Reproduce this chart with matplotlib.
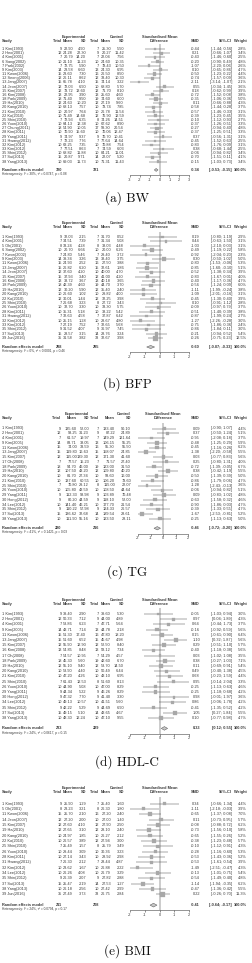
import matplotlib
matplotlib.use("Agg")
import matplotlib.pyplot as plt
from matplotlib.patches import Polygon

plt.rcParams['font.family'] = ['Liberation Sans', 'DejaVu Sans']

# ---------------- DATA ----------------
# (a) BW
bw_study = ["1 Kim(1993)", "2 Heo(2001)", "4 Kim(2001)", "6 Sang(2002)", "7 Park(2002)", "9 Kim(2003)",
            "11 Kwon(2006)", "12 Seong(2006)", "13 Jang(2007)", "14 Jeon(2007)", "15 Kim(2007)", "16 Kim(2008)",
            "18 Park(2009)", "19 Ha(2010)", "20 Kang(2010)", "21 Kim(2010)", "22 Ko(2010)", "25 Shin(2010)",
            "26 Yoon(2010)", "27 Chung(2011)", "28 Kim(2011)", "29 Yang(2011)", "31 Hwang(2012)", "32 Kim(2012)",
            "33 Kim(2012)", "35 Shin(2012)", "37 Sui(2013)", "38 Yang(2013)"]
bw_e_n = [9, 12, 7, 10, 7, 14, 15, 12, 15, 12, 12, 13, 18, 12, 10, 10, 10, 7, 10, 18, 10, 9, 7, 10, 7, 10, 15, 10]
bw_e_mean = [22.90, 24.28, 20.79, 21.10, 72.75, 23.58, 23.60, 26.11, 65.78, 72.03, 73.72, 22.95, 71.40, 24.63,
             68.13, 20.97, 71.49, 72.93, 64.13, 54.90, 70.90, 74.97, 72.23, 63.25, 77.51, 68.82, 20.87, 69.03]
bw_e_sd = [4.90, 22.30, 14.20, 11.23, 5.90, 6.60, 7.30, 8.62, 4.10, 6.90, 13.60, 3.90, 9.50, 10.20,
           7.57, 7.64, 14.68, 6.35, 12.38, 10.05, 15.60, 9.37, 7.76, 7.35, 8.63, 11.88, 9.71, 11.73]
bw_c_n = [7, 9, 7, 10, 7, 13, 16, 12, 15, 10, 12, 13, 19, 12, 10, 10, 12, 8, 10, 17, 10, 9, 7, 10, 7, 10, 14, 10]
bw_c_mean = [25.30, 20.27, 22.04, 24.60, 78.43, 24.30, 26.50, 33.40, 74.14, 68.80, 71.70, 25.60, 74.60, 27.19,
             73.74, 26.78, 76.90, 74.26, 67.62, 59.30, 70.06, 70.70, 77.64, 70.88, 74.59, 84.21, 22.07, 71.31]
bw_c_sd = [5.50, 11.42, 7.56, 10.35, 10.50, 6.95, 8.50, 10.30, 3.22, 5.70, 8.10, 4.60, 6.00, 9.60,
           7.85, 11.54, 12.59, 14.51, 8.90, 20.54, 12.47, 10.41, 14.64, 7.54, 6.03, 11.01, 5.20, 11.43]
bw_smd = [-0.44, 0.21, -0.43, -0.20, -1.07, 0.10, -0.50, -0.74, -2.11, 0.55, 0.18, -0.72, -0.35, 0.11,
          -0.58, -0.57, -0.39, -0.10, -0.37, -0.27, -0.37, 0.37, -0.45, -0.83, 0.38, -0.06, -0.70, -0.15]
bw_lo = [-1.44, -0.66, -1.46, -0.90, -2.20, -0.65, -1.23, -1.57, -3.14, -0.34, -0.62, -1.52, -1.06, -0.66,
         -1.44, -1.46, -1.23, -1.12, -1.26, -0.94, -1.25, -0.56, -1.52, -1.76, -0.68, -0.94, -1.51, -1.03]
bw_hi = [0.56, 1.07, 0.60, 0.49, 0.06, 0.86, 0.22, 0.09, -1.07, 1.45, 0.99, 0.08, 0.36, 0.88,
         0.28, 0.33, 0.45, 0.93, 0.51, 0.40, 0.51, 1.31, 0.63, 0.09, 1.44, 0.82, 0.11, 0.73]
bw_w = [2.8, 3.4, 2.5, 4.8, 2.6, 4.7, 4.4, 3.6, 2.1, 3.6, 3.9, 3.8, 5.0, 4.3,
        3.7, 3.1, 3.5, 2.7, 3.3, 4.8, 3.3, 3.1, 2.5, 3.1, 2.5, 3.4, 4.1, 3.4]
bw_total = [320, 321]
bw_pooled = [-0.34, -0.53, -0.15]
bw_het = "Heterogeneity: I² = 30%, τ² = 0.0747, p = 0.08"
bw_ticks = [-3, -2, -1, 0, 1, 2, 3]

# (b) BFP
bfp_study = ["1 Kim(1993)", "4 Kim(2001)", "5 Oh(2001)", "6 Sang(2002)", "7 Kwon(2002)", "9 Kim(2003)",
             "11 Kwon(2006)", "13 Jang(2007)", "14 Jeon(2007)", "15 Kim(2007)", "16 Kim(2008)", "18 Park(2009)",
             "19 Ha(2010)", "20 Kang(2010)", "22 Ko(2010)", "25 Shin(2010)", "26 Yoon(2010)", "28 Kim(2011)",
             "31 Hwang(2012)", "32 Kim(2012)", "33 Kim(2012)", "35 Shin(2012)", "37 Sui(2013)", "39 Jun(2016)"]
bfp_e_n = [9, 7, 8, 10, 7, 14, 15, 15, 12, 15, 13, 18, 12, 10, 12, 7, 10, 10, 7, 10, 7, 9, 15, 35]
bfp_e_mean = [32.03, 34.51, 33.24, 20.70, 24.80, 39.34, 24.93, 26.82, 37.60, 37.93, 38.72, 42.39,
              30.20, 26.60, 30.01, 26.68, 32.70, 35.31, 32.63, 25.15, 27.19, 31.52, 28.57, 31.58]
bfp_e_sd = [2.15, 7.39, 4.28, 6.66, 5.46, 3.26, 2.52, 6.20, 4.20, 3.40, 3.67, 4.60,
            5.90, 1.02, 1.44, 3.23, 3.30, 5.18, 4.58, 1.28, 7.52, 4.07, 3.15, 3.82]
bfp_c_n = [7, 7, 8, 10, 7, 13, 16, 15, 10, 12, 13, 19, 12, 10, 12, 8, 10, 10, 7, 10, 7, 9, 14, 33]
bfp_c_mean = [31.70, 31.34, 38.03, 20.00, 29.40, 38.40, 27.50, 32.61, 40.00, 41.00, 40.18, 44.70,
              35.40, 29.82, 32.25, 27.72, 33.30, 38.22, 37.87, 28.67, 32.65, 36.97, 28.76, 32.67]
bfp_c_sd = [0.52, 5.08, 4.48, 6.26, 3.72, 3.75, 3.88, 1.86, 4.70, 4.20, 3.65, 3.70,
            2.40, 4.00, 3.98, 3.43, 5.75, 5.42, 6.42, 4.80, 5.68, 7.45, 3.24, 3.98]
bfp_smd = [0.19, 0.44, -1.03, -0.49, -0.92, 0.30, -0.80, -0.85, -0.52, -0.83, -0.40, -0.56,
           -1.11, -1.09, -0.45, 0.10, -0.09, -0.51, -0.87, -1.27, -0.75, -0.86, -0.21, -0.26]
bfp_lo = [-0.80, -0.63, -2.10, -1.19, -2.04, -0.50, -1.53, -1.60, -1.38, -1.67, -1.17, -1.24,
          -1.99, -2.01, -1.30, -0.91, -0.97, -1.40, -1.99, -2.26, -1.86, -1.84, -0.94, -0.75]
bfp_hi = [1.19, 1.50, 0.03, 0.22, 0.20, 1.02, -0.06, -0.10, 0.34, 0.01, 0.36, 0.09,
          -0.24, -0.16, 0.40, 1.12, 0.79, 0.39, 0.24, -0.28, 0.36, 0.11, 0.52, 0.23]
bfp_w = [2.9, 3.1, 3.1, 5.8, 2.3, 5.0, 5.3, 5.1, 3.9, 4.0, 4.7, 6.0,
         3.8, 3.1, 3.9, 2.8, 3.7, 3.8, 2.7, 3.0, 2.4, 3.0, 5.4, 12.5]
bfp_total = [288, 285]
bfp_pooled = [-0.60, -0.87, -0.33]
bfp_het = "Heterogeneity: I² = 0%, τ² < 0.0001, p = 0.46"
bfp_ticks = [-2, -1, 0, 1, 2]

# (c) TG
tg_study = ["1 Kim(1993)", "2 Heo(2001)", "4 Kim(2001)", "9 Kim(2005)", "11 Kwon(2006)", "13 Jang(2007)",
            "15 Kim(2007)", "17 Oh(2008)", "18 Park(2009)", "19 Ha(2010)", "20 Kang(2010)", "21 Kim(2010)",
            "25 Shin(2010)", "26 Yoon(2010)", "29 Yang(2011)", "30 Hong(2012)", "34 Lee(2012)", "35 Shin(2012)",
            "37 Sui(2013)", "38 Yang(2013)"]
tg_e_n = [9, 12, 7, 14, 15, 15, 12, 7, 18, 12, 10, 10, 7, 10, 9, 9, 10, 9, 15, 10]
tg_e_mean = [135.60, 98.25, 61.57, 83.71, 74.00, 119.80, 115.00, 77.57, 94.70, 107.50, 81.70, 137.60,
             70.80, 105.80, 112.33, 80.20, 141.40, 110.22, 136.62, 111.90]
tg_e_sd = [52.00, 31.23, 19.97, 38.05, 33.59, 16.63, 139.30, 15.23, 46.00, 43.20, 27.34, 60.55,
           29.12, 43.59, 98.98, 44.59, 46.21, 57.98, 32.68, 55.16]
tg_c_n = [7, 9, 7, 13, 16, 15, 12, 7, 19, 12, 10, 10, 8, 10, 9, 9, 10, 9, 14, 10]
tg_c_mean = [133.40, 87.22, 149.29, 106.15, 95.30, 158.07, 171.30, 71.57, 123.00, 109.80, 93.60, 106.20,
             115.00, 108.50, 103.89, 118.10, 177.70, 124.33, 189.54, 123.50]
tg_c_sd = [90.10, 24.89, 121.64, 55.25, 55.50, 24.85, 41.60, 27.40, 31.50, 40.20, 16.00, 73.60,
           22.07, 44.64, 70.48, 52.00, 21.54, 26.57, 28.61, 28.11]
tg_smd = [0.09, 0.37, -0.95, -0.48, -0.45, -1.38, 0.03, 0.25, -0.72, 0.38, -0.50, -0.86,
          -1.28, -0.06, 0.09, -0.63, -0.90, -0.39, -1.67, -0.25]
tg_lo = [-0.90, -0.50, -2.08, -1.25, -1.16, -2.20, -0.77, -0.80, -1.39, -0.42, -1.39, -1.79,
         -2.43, -0.94, -0.83, -1.58, -1.86, -1.33, -2.53, -1.13]
tg_hi = [1.07, 1.24, 0.18, 0.29, 0.26, -0.58, 0.83, 1.31, -0.05, 1.19, 0.39, 0.06,
         -0.13, 0.82, 1.02, 0.32, 0.03, 0.55, -0.81, 0.63]
tg_w = [4.4, 5.1, 3.7, 5.9, 6.2, 5.5, 5.6, 4.0, 6.7, 5.5, 5.0, 4.7,
        3.6, 5.1, 4.8, 4.6, 4.7, 4.7, 5.2, 5.0]
tg_total = [220, 216]
tg_pooled = [-0.46, -0.72, -0.20]
tg_het = "Heterogeneity: I² = 41%, τ² = 0.1421, p = 0.03"
tg_ticks = [-2, -1, 0, 1, 2]

# (d) HDL-C
hdl_study = ["1 Kim(1993)", "2 Heo(2001)", "4 Kim(2001)", "9 Kim(2005)", "11 Kwon(2006)", "13 Jang(2007)",
             "15 Kim(2007)", "16 Kim(2008)", "17 Oh(2008)", "18 Park(2009)", "19 Ha(2010)", "20 Kang(2010)",
             "21 Kim(2010)", "25 Shin(2010)", "26 Yoon(2010)", "29 Yang(2011)", "30 Hong(2012)", "34 Lee(2012)",
             "35 Shin(2012)", "37 Sui(2013)", "38 Yang(2013)"]
hdl_e_n = [9, 12, 7, 14, 15, 15, 12, 13, 7, 18, 12, 10, 10, 7, 10, 9, 9, 10, 9, 15, 10]
hdl_e_mean = [39.40, 50.33, 53.86, 43.71, 51.30, 51.60, 55.90, 54.85, 54.57, 45.30, 55.10, 53.90,
              47.20, 61.43, 44.90, 44.34, 47.32, 49.13, 42.22, 49.15, 48.30]
hdl_e_sd = [2.90, 7.12, 6.23, 7.14, 17.40, 6.52, 12.90, 8.48, 10.95, 5.60, 9.40, 4.40,
            4.26, 12.53, 5.08, 5.22, 7.70, 10.57, 5.29, 5.10, 12.24]
hdl_c_n = [7, 9, 7, 13, 16, 15, 12, 13, 7, 19, 12, 10, 10, 8, 10, 9, 9, 10, 9, 14, 10]
hdl_c_mean = [39.60, 44.00, 47.71, 44.78, 47.80, 45.67, 52.50, 58.12, 54.29, 42.60, 53.70, 50.49,
              43.10, 51.60, 47.00, 46.26, 41.40, 41.51, 44.69, 43.65, 47.10]
hdl_c_sd = [5.30, 4.89, 5.64, 2.18, 18.20, 4.98, 8.40, 7.34, 4.57, 6.70, 14.50, 6.44,
            6.95, 8.13, 8.29, 8.29, 3.30, 5.60, 6.90, 4.67, 9.55]
hdl_smd = [-0.05, 0.97, 0.64, -0.16, 0.15, 1.10, 0.29, -0.40, 0.03, 0.38, 0.11, 0.49,
           0.68, 0.95, -0.25, -0.25, 0.98, 0.86, -0.41, 1.05, 0.10]
hdl_lo = [-1.03, 0.04, -0.44, -0.92, -0.61, 0.32, -0.51, -1.18, -1.02, -0.27, -0.69, -0.40,
          -0.23, -0.14, -1.13, -1.18, -0.01, -0.06, -1.35, 0.27, -0.77]
hdl_hi = [0.94, 1.89, 1.73, 0.59, 0.90, 1.87, 1.10, 0.38, 1.08, 1.03, 0.91, 1.38,
          1.59, 2.04, 0.63, 0.68, 1.97, 1.78, 0.52, 1.84, 0.98]
hdl_w = [3.0, 4.3, 3.7, 5.6, 6.4, 5.6, 5.7, 5.6, 3.5, 7.1, 5.4, 4.5,
         4.4, 3.3, 4.6, 4.2, 3.6, 4.2, 4.2, 5.5, 4.7]
hdl_total = [233, 229]
hdl_pooled = [0.33, 0.12, 0.55]
hdl_het = "Heterogeneity: I² = 24%, τ² = 0.0617, p = 0.15"
hdl_ticks = [-2, -1, 0, 1, 2]

# (e) BMI
bmi_study = ["1 Kim(1993)", "5 Oh(2001)", "11 Kwon(2006)", "14 Jeon(2007)", "15 Kim(2007)", "19 Ha(2010)",
             "20 Kang(2010)", "22 Ko(2010)", "25 Shin(2010)", "26 Yoon(2010)", "28 Kim(2011)", "31 Hwang(2012)",
             "32 Kim(2012)", "34 Lee(2012)", "35 Shin(2012)", "37 Sui(2013)", "38 Yang(2013)", "39 Jun(2016)"]
bmi_e_n = [9, 8, 15, 12, 12, 12, 10, 10, 7, 10, 10, 7, 10, 10, 9, 15, 10, 35]
bmi_e_mean = [25.90, 23.23, 25.70, 27.20, 27.60, 27.65, 24.97, 26.57, 25.49, 29.44, 27.14, 26.30,
              23.62, 26.26, 26.39, 25.47, 26.18, 27.49]
bmi_e_sd = [1.29, 3.21, 2.10, 2.00, 4.10, 3.10, 1.85, 3.89, 1.57, 3.09, 3.43, 2.12,
            1.67, 4.08, 2.07, 2.19, 2.56, 3.73]
bmi_c_n = [7, 8, 16, 10, 12, 12, 10, 12, 8, 10, 10, 7, 10, 10, 9, 14, 10, 33]
bmi_c_mean = [25.40, 26.30, 27.20, 27.00, 27.90, 28.10, 26.27, 27.94, 25.79, 30.36, 28.92, 28.44,
              26.88, 26.79, 27.82, 27.53, 27.42, 26.75]
bmi_c_sd = [1.60, 1.80, 2.40, 1.40, 2.50, 2.40, 2.12, 3.00, 3.49, 3.23, 2.98, 4.87,
            2.22, 3.29, 2.88, 1.27, 2.99, 2.84]
bmi_smd = [0.34, -1.11, -0.65, 0.11, -0.08, -0.73, -0.65, -0.38, -0.10, -0.28, -0.53, -0.53,
           -1.49, -0.13, -0.54, -1.14, -0.47, 0.22]
bmi_lo = [-0.66, -2.18, -1.37, -0.73, -0.88, -1.56, -1.55, -1.23, -1.12, -1.16, -1.43, -1.61,
          -2.51, -1.01, -1.49, -1.94, -1.36, -0.26]
bmi_hi = [1.34, -0.03, 0.08, 0.95, 0.72, 0.10, 0.26, 0.48, 0.91, 0.60, 0.36, 0.54,
          -0.47, 0.75, 0.40, -0.35, 0.42, 0.70]
bmi_w = [4.4, 3.9, 7.0, 5.7, 6.2, 5.8, 5.2, 5.7, 4.3, 5.3, 5.2, 3.9,
         4.3, 5.4, 4.8, 6.2, 5.5, 11.3]
bmi_total = [211, 208]
bmi_pooled = [-0.41, -0.64, -0.17]
bmi_het = "Heterogeneity: I² = 24%, τ² = 0.0794, p = 0.17"
bmi_ticks = [-2, -1, 0, 1, 2]

captions = ["(a) BW", "(b) BFP", "(c) TG", "(d) HDL-C", "(e) BMI"]

# ---------------- LAYOUT ----------------
W, H = 253, 963
fig = plt.figure(figsize=(W / 100, H / 100), dpi=100)
FS = 2.8
TXT = '#3a3a3a'


def fx(x):
    return x / W


def fy(y):
    return 1 - y / H


cols_std = dict(study=2, e_n=62, e_mean=73, e_sd=86, c_n=99, c_mean=111, c_sd=124,
                smd=200, ci=232, w=247, px0=130, px1=189)
cols_tg = dict(study=2, e_n=61, e_mean=77, e_sd=89, c_n=99, c_mean=115, c_sd=131,
               smd=200, ci=232, w=247, px0=138, px1=188)

panels = [
    dict(study=bw_study, en=bw_e_n, em=bw_e_mean, es=bw_e_sd, cn=bw_c_n, cm=bw_c_mean, cs=bw_c_sd,
         smd=bw_smd, lo=bw_lo, hi=bw_hi, w=bw_w, tot=bw_total, pooled=bw_pooled, het=bw_het,
         ticks=bw_ticks, cols=cols_std, E=37, row1=49, s=4.17, cap=198),
    dict(study=bfp_study, en=bfp_e_n, em=bfp_e_mean, es=bfp_e_sd, cn=bfp_c_n, cm=bfp_c_mean, cs=bfp_c_sd,
         smd=bfp_smd, lo=bfp_lo, hi=bfp_hi, w=bfp_w, tot=bfp_total, pooled=bfp_pooled, het=bfp_het,
         ticks=bfp_ticks, cols=cols_std, E=223, row1=237, s=4.4, cap=384),
    dict(study=tg_study, en=tg_e_n, em=tg_e_mean, es=tg_e_sd, cn=tg_c_n, cm=tg_c_mean, cs=tg_c_sd,
         smd=tg_smd, lo=tg_lo, hi=tg_hi, w=tg_w, tot=tg_total, pooled=tg_pooled, het=tg_het,
         ticks=tg_ticks, cols=cols_tg, E=414, row1=428.5, s=4.75, cap=572),
    dict(study=hdl_study, en=hdl_e_n, em=hdl_e_mean, es=hdl_e_sd, cn=hdl_c_n, cm=hdl_c_mean, cs=hdl_c_sd,
         smd=hdl_smd, lo=hdl_lo, hi=hdl_hi, w=hdl_w, tot=hdl_total, pooled=hdl_pooled, het=hdl_het,
         ticks=hdl_ticks, cols=cols_std, E=600, row1=614, s=5.2, cap=762),
    dict(study=bmi_study, en=bmi_e_n, em=bmi_e_mean, es=bmi_e_sd, cn=bmi_c_n, cm=bmi_c_mean, cs=bmi_c_sd,
         smd=bmi_smd, lo=bmi_lo, hi=bmi_hi, w=bmi_w, tot=bmi_total, pooled=bmi_pooled, het=bmi_het,
         ticks=bmi_ticks, cols=cols_std, E=788, row1=803.5, s=5.35, cap=951),
]


def t(x, y, s, ha='right', bold=False, size=FS, color=TXT):
    fig.text(fx(x), fy(y), s, ha=ha, va='center', fontsize=size,
             fontweight='bold' if bold else 'normal', color=color)


for k, p in enumerate(panels):
    c = p['cols']
    n = len(p['study'])
    E, r1, s = p['E'], p['row1'], p['s']
    hdr = E + 4.2
    # headers
    t(c['e_sd'], E, "Experimental", bold=True)
    t(c['c_sd'], E, "Control", bold=True)
    xm = (c['px0'] + c['px1']) / 2
    t(xm, E, "Standardised Mean", ha='center', bold=True)
    t(xm, hdr, "Difference", ha='center', bold=True)
    t(c['study'], hdr, "Study", ha='left', bold=True)
    for key, lab in [('e_n', 'Total'), ('e_mean', 'Mean'), ('e_sd', 'SD'),
                     ('c_n', 'Total'), ('c_mean', 'Mean'), ('c_sd', 'SD'),
                     ('smd', 'SMD'), ('ci', '95%-CI'), ('w', 'Weight')]:
        t(c[key], hdr, lab, bold=True)
    # study rows
    for i in range(n):
        y = r1 + i * s
        t(c['study'], y, p['study'][i], ha='left')
        t(c['e_n'], y, f"{p['en'][i]}")
        t(c['e_mean'], y, f"{p['em'][i]:.2f}")
        t(c['e_sd'], y, f"{p['es'][i]:.2f}")
        t(c['c_n'], y, f"{p['cn'][i]}")
        t(c['c_mean'], y, f"{p['cm'][i]:.2f}")
        t(c['c_sd'], y, f"{p['cs'][i]:.2f}")
        t(c['smd'], y, f"{p['smd'][i]:.2f}")
        t(c['ci'], y, f"[{p['lo'][i]:.2f}; {p['hi'][i]:.2f}]")
        t(c['w'], y, f"{p['w'][i]:.1f}%")
    yr = r1 + (n + 1) * s
    t(c['study'], yr, "Random effects model", ha='left', bold=True)
    t(c['e_n'], yr, f"{p['tot'][0]}", bold=True)
    t(c['c_n'], yr, f"{p['tot'][1]}", bold=True)
    est, plo, phi = p['pooled']
    t(c['smd'], yr, f"{est:.2f}", bold=True)
    t(c['ci'], yr, f"[{plo:.2f}; {phi:.2f}]", bold=True)
    t(c['w'], yr, "100.0%", bold=True)
    yh = yr + 4.2
    t(c['study'], yh, p['het'], ha='left', size=FS * 0.85)

    # forest axes
    y_top = r1 - 1.2 * s
    y_axis = yr + 5.3
    ax = fig.add_axes([fx(c['px0']), fy(y_axis), fx(c['px1']) - fx(c['px0']), (y_axis - y_top) / H])
    idx_top = (y_top - r1) / s
    idx_axis = (y_axis - r1) / s
    ax.set_ylim(idx_axis, idx_top)
    lim = max(abs(v) for v in p['ticks'])
    ax.set_xlim(-lim, lim)
    ax.patch.set_alpha(0)
    for sp in ['top', 'left', 'right']:
        ax.spines[sp].set_visible(False)
    ax.spines['bottom'].set_linewidth(0.4)
    ax.spines['bottom'].set_color('#444444')
    ax.set_yticks([])
    ax.set_xticks(p['ticks'])
    ax.set_xticklabels([f"{v}" for v in p['ticks']])
    ax.tick_params(axis='x', length=1.2, width=0.4, pad=0.6, labelsize=FS, colors=TXT)
    ax.axvline(0, color='#333333', lw=0.35, zorder=1)
    ys = list(range(n))
    ax.hlines(ys, p['lo'], p['hi'], color='#333333', lw=0.3, zorder=2)
    ax.scatter(p['smd'], ys, s=[wv * 1.2 for wv in p['w']], marker='s',
               color='#a8a8a8', edgecolors='#a8a8a8', linewidths=0.2, zorder=3)
    ax.scatter(p['smd'], ys, s=0.12, marker='s', color='black', zorder=4)
    dia = Polygon([(plo, n + 1), (est, n + 1 - 0.35), (phi, n + 1), (est, n + 1 + 0.35)],
                  closed=True, facecolor='#c8c8c8', edgecolor='#555555', lw=0.35, zorder=3)
    ax.add_patch(dia)

    # caption
    fig.text(fx(127), fy(p['cap']), captions[k], ha='center', va='center', fontsize=9.5,
             family=['cmr10', 'DejaVu Serif'], color='#111111')

fig.savefig("out.png", dpi=100, facecolor='white')
